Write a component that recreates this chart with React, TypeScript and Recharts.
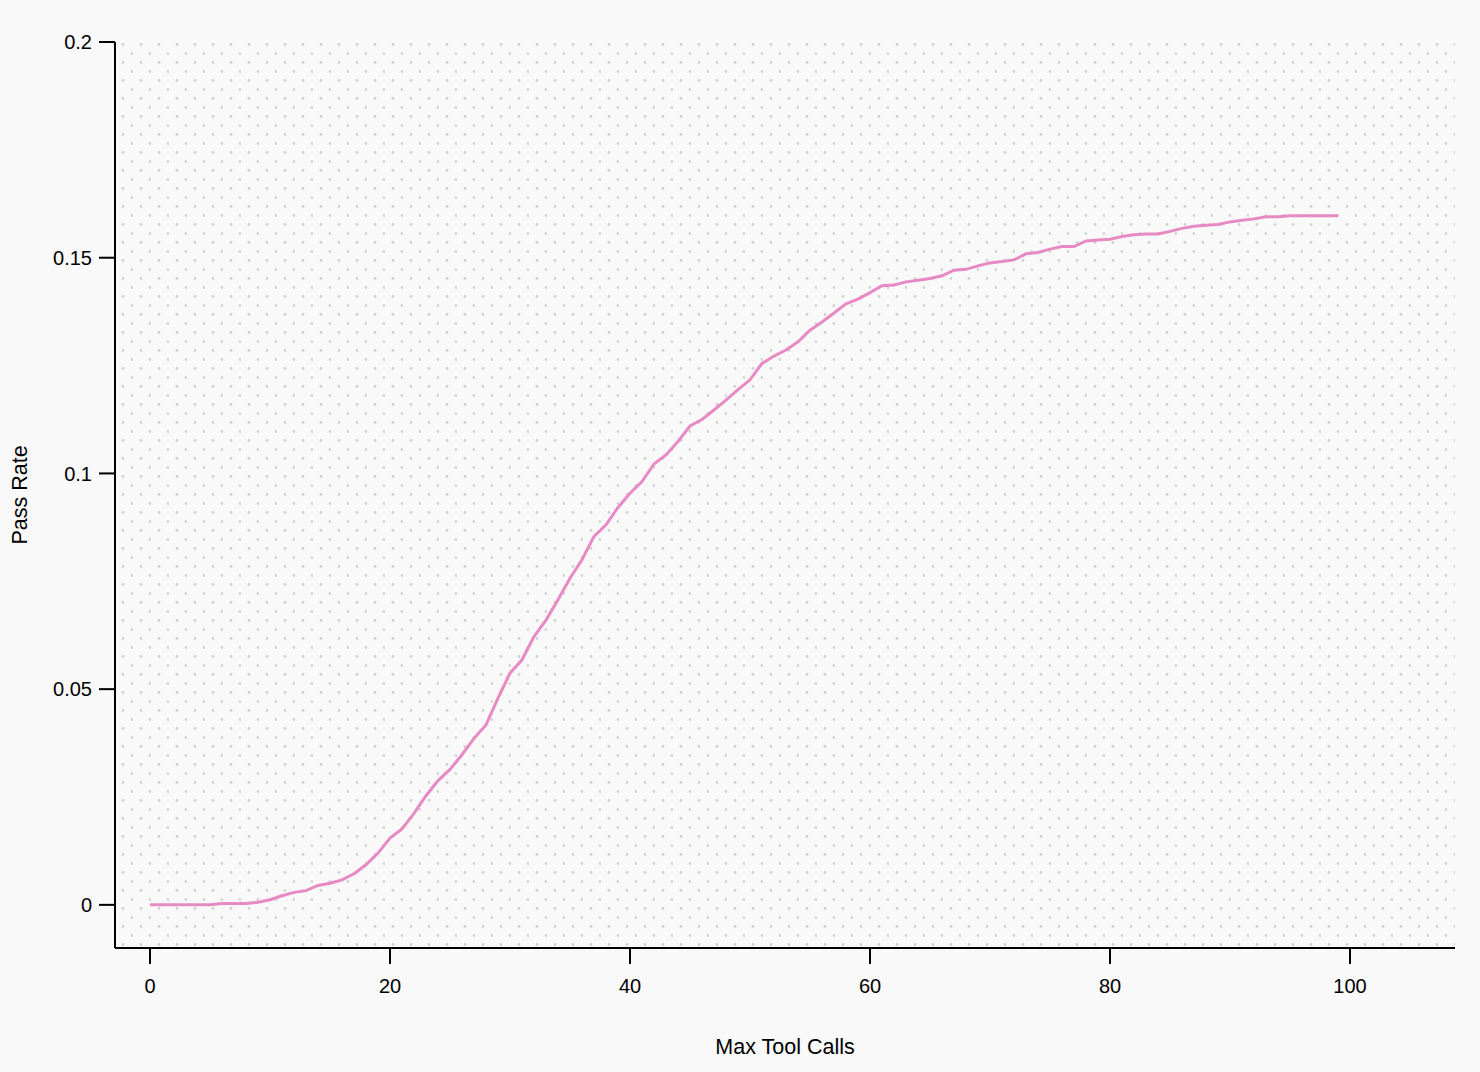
import { CartesianGrid, Label, Line, LineChart, XAxis, YAxis } from 'recharts';

const toolCalls = [
  0, 1, 2, 3, 4, 5, 6, 7, 8, 9, 10, 11, 12, 13, 14, 15, 16, 17, 18, 19,
  20, 21, 22, 23, 24, 25, 26, 27, 28, 29, 30, 31, 32, 33, 34, 35, 36, 37, 38, 39,
  40, 41, 42, 43, 44, 45, 46, 47, 48, 49, 50, 51, 52, 53, 54, 55, 56, 57, 58, 59,
  60, 61, 62, 63, 64, 65, 66, 67, 68, 69, 70, 71, 72, 73, 74, 75, 76, 77, 78, 79,
  80, 81, 82, 83, 84, 85, 86, 87, 88, 89, 90, 91, 92, 93, 94, 95, 96, 97, 98, 99,
];

const passRate = [
  0, 0, 0, 0, 0, 0, 0.0003, 0.0003, 0.0003, 0.0006,
  0.0012, 0.0021, 0.0029, 0.0033, 0.0045, 0.005, 0.0058, 0.0072, 0.0093, 0.012,
  0.0155, 0.0176, 0.0212, 0.0253, 0.0288, 0.0314, 0.0348, 0.0386, 0.0417, 0.0479,
  0.0537, 0.0568, 0.0622, 0.066, 0.0707, 0.0757, 0.08, 0.0854, 0.0881, 0.0921,
  0.0954, 0.0981, 0.1022, 0.1043, 0.1074, 0.111, 0.1125, 0.1147, 0.117, 0.1194,
  0.1217, 0.1255, 0.1272, 0.1286, 0.1305, 0.1332, 0.1351, 0.1372, 0.1393, 0.1404,
  0.1419, 0.1435, 0.1437, 0.1444, 0.1448, 0.1452, 0.1458, 0.1471, 0.1473, 0.1481,
  0.1488, 0.1491, 0.1495, 0.1509, 0.1512, 0.152, 0.1526, 0.1526, 0.1539, 0.1541,
  0.1543, 0.1549, 0.1553, 0.1555, 0.1555, 0.1561, 0.1568, 0.1573, 0.1575, 0.1577,
  0.1583, 0.1587, 0.159, 0.1595, 0.1595, 0.1597, 0.1597, 0.1597, 0.1597, 0.1597,
];

const xTicks = [0, 20, 40, 60, 80, 100];
const yTicks = [0, 0.05, 0.1, 0.15, 0.2];

const data = toolCalls.map((calls, i) => ({ calls, rate: passRate[i] }));

const FONT = '"Liberation Sans", Arial, sans-serif';
const tickStyle = { fill: '#000', fontSize: 20, fontFamily: FONT };

export default function App() {
  return (
    <div
      style={{
        position: 'absolute',
        left: 0,
        top: 0,
        width: 1480,
        height: 1072,
        background: '#f9f9f9',
      }}
    >
      <LineChart
        width={1480}
        height={1072}
        data={data}
        margin={{ top: 42, right: 25, bottom: 0, left: 0 }}
      >
        <defs>
          <pattern id="dots" x={115} y={42} width={18} height={18} patternUnits="userSpaceOnUse">
            <circle cx={8} cy={2.5} r={1.4} fill="#d2d2d2" />
            <circle cx={17} cy={11.5} r={1.4} fill="#d2d2d2" />
          </pattern>
        </defs>
        <CartesianGrid horizontal={false} vertical={false} fill="url(#dots)" />
        <XAxis
          dataKey="calls"
          type="number"
          domain={[-2.9167, 108.75]}
          allowDataOverflow
          ticks={xTicks}
          height={124}
          tick={tickStyle}
          tickSize={16}
          tickMargin={15}
          axisLine={{ stroke: '#000', strokeWidth: 2 }}
          tickLine={{ stroke: '#000', strokeWidth: 2 }}
        >
          <Label
            content={({ viewBox }: any) => (
              <text
                x={viewBox.x + viewBox.width / 2}
                y={viewBox.y + 106}
                textAnchor="middle"
                fill="#000"
                fontSize={21.5}
                fontFamily={FONT}
              >
                Max Tool Calls
              </text>
            )}
          />
        </XAxis>
        <YAxis
          type="number"
          domain={[-0.01, 0.2]}
          allowDataOverflow
          ticks={yTicks}
          width={115}
          tick={tickStyle}
          tickSize={16}
          tickMargin={7}
          axisLine={{ stroke: '#000', strokeWidth: 2 }}
          tickLine={{ stroke: '#000', strokeWidth: 2 }}
        >
          <Label
            content={({ viewBox }: any) => {
              const x = viewBox.x + 27;
              const y = viewBox.y + viewBox.height / 2;
              return (
                <text
                  x={x}
                  y={y}
                  transform={`rotate(-90, ${x}, ${y})`}
                  textAnchor="middle"
                  fill="#000"
                  fontSize={21.5}
                  fontFamily={FONT}
                >
                  Pass Rate
                </text>
              );
            }}
          />
        </YAxis>
        <Line
          type="linear"
          dataKey="rate"
          stroke="#e78ac3"
          strokeWidth={3}
          dot={false}
          activeDot={false}
          isAnimationActive={false}
        />
      </LineChart>
    </div>
  );
}
